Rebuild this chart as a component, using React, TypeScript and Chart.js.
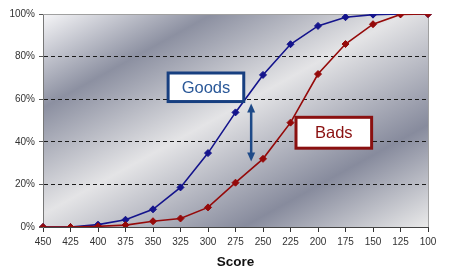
import React, { useEffect, useRef } from "react";
import { Chart, registerables } from "chart.js";

Chart.register(...registerables);

const scoreLabels = ["450", "425", "400", "375", "350", "325", "300", "275", "250", "225", "200", "175", "150", "125", "100"];
const goodsValues = [0, 0, 1.1, 3.4, 8.3, 18.6, 34.7, 53.8, 71.4, 85.8, 94.4, 98.5, 99.7, 100, 100];
const badsValues = [0, 0, 0.3, 0.9, 2.7, 4.0, 9.2, 20.8, 32.0, 49.0, 71.8, 85.9, 95.2, 99.8, 100];
const yTicks = [0, 20, 40, 60, 80, 100];

const FONT = "'Liberation Sans', Arial, sans-serif";

const bgPlugin = {
  id: "bgPlugin",
  beforeDraw(chart: any) {
    const { ctx, chartArea } = chart;
    const { left, top, right, bottom } = chartArea;
    const w = right - left;
    const h = bottom - top;
    const s = (2 * w * h) / (h * h + w * w);
    const g = ctx.createLinearGradient(left, top, left + h * s, top + w * s);
    g.addColorStop(0, "#f6f6f8");
    g.addColorStop(0.22, "#8c90a1");
    g.addColorStop(0.47, "#e4e4e6");
    g.addColorStop(0.76, "#878b9d");
    g.addColorStop(1, "#eaeaea");
    ctx.save();
    ctx.fillStyle = g;
    ctx.fillRect(left, top, w, h);
    ctx.restore();
  },
  beforeDatasetsDraw(chart: any) {
    const { ctx, chartArea } = chart;
    const { left, top, right, bottom } = chartArea;
    ctx.save();
    ctx.strokeStyle = "#a0a0a0";
    ctx.lineWidth = 1;
    ctx.beginPath();
    ctx.moveTo(left, top + 0.5);
    ctx.lineTo(right + 0.5, top + 0.5);
    ctx.lineTo(right + 0.5, bottom);
    ctx.stroke();
    ctx.restore();
  },
  afterDatasetsDraw(chart: any) {
    const { ctx } = chart;
    const xs = chart.scales.x;
    const ys = chart.scales.y;
    const px = (i: number) => xs.getPixelForValue(i);
    const py = (v: number) => ys.getPixelForValue(v);

    const box = (x1: number, y1: number, x2: number, y2: number, border: string, text: string, color: string) => {
      ctx.save();
      ctx.fillStyle = "#ffffff";
      ctx.fillRect(x1, y1, x2 - x1, y2 - y1);
      ctx.strokeStyle = border;
      ctx.lineWidth = 3;
      ctx.strokeRect(x1, y1, x2 - x1, y2 - y1);
      ctx.fillStyle = color;
      ctx.font = `16.5px ${FONT}`;
      ctx.textAlign = "center";
      ctx.textBaseline = "middle";
      ctx.fillText(text, (x1 + x2) / 2, (y1 + y2) / 2 + 1);
      ctx.restore();
    };

    // Goods label
    box(px(4.55), py(72.3), px(7.3), py(58.9), "#173f80", "Goods", "#2a5898");
    // Bads label
    box(px(9.2), py(51.5), px(11.95), py(37.0), "#8a1010", "Bads", "#8a1010");

    // double arrow
    const ax = px(7.57);
    const yTop = py(58.0);
    const yBot = py(30.8);
    ctx.save();
    ctx.strokeStyle = "#1e4a88";
    ctx.fillStyle = "#1e4a88";
    ctx.lineWidth = 2.5;
    ctx.beginPath();
    ctx.moveTo(ax, yTop + 6);
    ctx.lineTo(ax, yBot - 6);
    ctx.stroke();
    ctx.beginPath();
    ctx.moveTo(ax, yTop);
    ctx.lineTo(ax - 4, yTop + 9);
    ctx.lineTo(ax + 4, yTop + 9);
    ctx.closePath();
    ctx.fill();
    ctx.beginPath();
    ctx.moveTo(ax, yBot);
    ctx.lineTo(ax - 4, yBot - 9);
    ctx.lineTo(ax + 4, yBot - 9);
    ctx.closePath();
    ctx.fill();
    ctx.restore();
  },
};

export default function App() {
  const ref = useRef<HTMLCanvasElement | null>(null);

  useEffect(() => {
    if (!ref.current) return;
    const chart = new Chart(ref.current, {
      type: "line",
      data: {
        labels: scoreLabels,
        datasets: [
          {
            label: "Goods",
            data: goodsValues,
            borderColor: "#14148c",
            backgroundColor: "#14148c",
            borderWidth: 1.6,
            pointStyle: "rectRot",
            pointRadius: 3.5,
            pointBorderWidth: 1,
            tension: 0,
            order: 1,
          },
          {
            label: "Bads",
            data: badsValues,
            borderColor: "#950a0a",
            backgroundColor: "#950a0a",
            borderWidth: 1.6,
            pointStyle: "rectRot",
            pointRadius: 3.5,
            pointBorderWidth: 1,
            tension: 0,
            order: 0,
          },
        ],
      },
      options: {
        animation: false,
        responsive: false,
        devicePixelRatio: 1,
        layout: { padding: { left: 0, top: 14, right: 25, bottom: 0 } },
        plugins: {
          legend: { display: false },
          tooltip: { enabled: false },
        },
        scales: {
          x: {
            type: "category",
            offset: false,
            grid: {
              drawOnChartArea: false,
              drawTicks: true,
              tickLength: 5,
              tickColor: "#333333",
            },
            border: { display: true, color: "#444444", width: 1 },
            ticks: {
              autoSkip: false,
              maxRotation: 0,
              padding: 4,
              color: "#333333",
              font: { family: FONT, size: 10 },
            },
            title: {
              display: true,
              text: "Score",
              color: "#111111",
              font: { family: FONT, size: 13.5, weight: "bold" },
              padding: { top: 0, bottom: 8 },
            },
            afterFit: (scale: any) => {
              scale.height = 51;
            },
          },
          y: {
            min: 0,
            max: 100,
            afterBuildTicks: (scale: any) => {
              scale.ticks = yTicks.map((v) => ({ value: v }));
            },
            grid: {
              color: (c: any) =>
                c.tick && (c.tick.value === 0 || c.tick.value === 100) ? "rgba(0,0,0,0)" : "#1a1a1a",
              lineWidth: 1,
              drawTicks: true,
              tickLength: 4,
              tickColor: "#555555",
            },
            border: { display: true, color: "#777777", width: 1, dash: [4, 3] },
            ticks: {
              padding: 4,
              color: "#333333",
              font: { family: FONT, size: 10 },
              callback: (v: any) => `${v}%`,
            },
            afterFit: (scale: any) => {
              scale.width = 43;
            },
          },
        },
      },
      plugins: [bgPlugin],
    });
    return () => chart.destroy();
  }, []);

  return (
    <div style={{ position: "absolute", left: 0, top: 0, width: 453, height: 278, background: "#ffffff" }}>
      <canvas ref={ref} width={453} height={278} style={{ display: "block", width: 453, height: 278 }} />
    </div>
  );
}
